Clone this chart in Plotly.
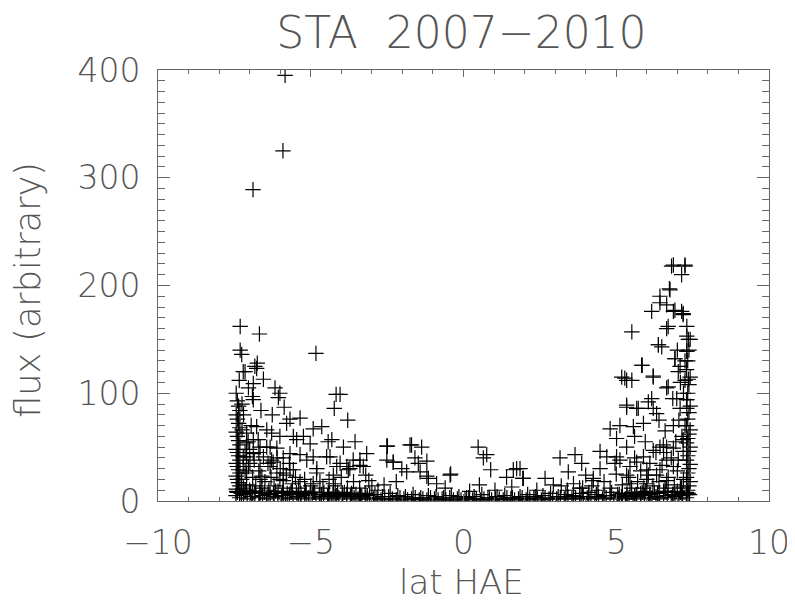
"""STA 2007-2010 flux vs heliographic latitude, IDL-style plus scatter."""

import plotly.graph_objects as go

# points sitting on the floor of the plot (low flux band)
lat_floor = [
    -7.45, -7.33, -7.2, -7.08, -6.95, -6.83, -6.7, -6.58, -6.45, -6.33, -6.2, -6.08,
    -5.95, -5.83, -5.7, -5.58, -5.45, -5.33, -5.2, -5.08, -4.95, -4.83, -4.7, -4.58,
    -4.45, -4.33, -4.2, -4.08, -3.95, -3.83, -3.7, -3.58, -3.45, -3.33, -3.2, -3.08,
    -2.95, -2.83, -2.7, -2.58, -2.45, -2.33, -2.2, -2.08, -1.95, -1.83, -1.7, -1.58,
    -1.45, -1.33, -1.2, -1.08, -0.95, -0.83, -0.7, -0.58, -0.45, -0.33, -0.2, -0.08,
    0.05, 0.17, 0.3, 0.42, 0.55, 0.67, 0.8, 0.92, 1.05, 1.17, 1.3, 1.42,
    1.55, 1.67, 1.8, 1.92, 2.05, 2.17, 2.3, 2.42, 2.55, 2.67, 2.8, 2.92,
    3.05, 3.17, 3.3, 3.42, 3.55, 3.67, 3.8, 3.92, 4.05, 4.17, 4.3, 4.42,
    4.55, 4.67, 4.8, 4.92, 5.05, 5.17, 5.3, 5.42, 5.55, 5.67, 5.8, 5.92,
    6.05, 6.17, 6.3, 6.42, 6.55, 6.67, 6.8, 6.92, 7.05, 7.17, 7.3, 7.4,
]
flux_floor = [
    5, 3, 6, 2, 4, 7, 3, 5, 2, 6, 4, 3, 5, 2, 6, 3, 4, 2, 5, 3, 6, 2, 4, 3,
    5, 2, 4, 3, 5, 2, 4, 3, 2, 4, 3, 2,
    2, 3, 1, 2, 4, 2, 1, 3, 2, 1, 2, 3, 1, 2, 1, 3, 2, 1, 2, 1, 3, 1, 2, 1,
    2, 3, 1, 2, 1, 2, 3, 1, 2, 2, 1, 3, 2, 1, 2, 3, 1, 2, 3, 2, 1, 3, 2, 2,
    2, 3, 2, 4, 2, 3, 2, 4, 3, 2, 3, 4, 2, 3, 5, 2, 3, 4, 2, 3, 2, 4, 3, 5,
    2, 3, 4, 2, 3, 5, 3, 4, 2, 5, 3, 6,
]
lat_floor2 = [
    -7.4, -7.15, -6.9, -6.65, -6.4, -6.15, -5.9, -5.65, -5.4, -5.15, -4.9, -4.65,
    -4.4, -4.15, -3.9, -3.65, -3.4, -3.15, -2.9, -2.65, -2.4, -2.15, -1.9, -1.65,
    -1.4, -1.15, -0.9, -0.65, -0.4, -0.15, 0.1, 0.35, 0.6, 0.85, 1.1, 1.35,
    1.6, 1.85, 2.1, 2.35, 2.6, 2.85, 3.1, 3.35, 3.6, 3.85, 4.1, 4.35,
    4.6, 4.85, 5.1, 5.35, 5.6, 5.85, 6.1, 6.35, 6.6, 6.85, 7.1, 7.35,
]
flux_floor2 = [
    8, 9, 7, 8, 6, 9, 7, 8, 6, 7, 8, 6, 7, 5, 8, 6, 7, 5, 6, 4, 7, 5, 4, 6,
    3, 5, 4, 3, 5, 4, 3, 4, 6, 3, 4, 5, 3, 4, 6, 4, 5, 7, 4, 6, 5, 7, 4, 6,
    5, 8, 6, 7, 5, 8, 6, 7, 9, 6, 8, 7,
]
lat_floor3 = [
    -7.42, -7.27, -7.12, -6.97, -6.82, -6.67, -6.52, -6.37, -6.22, -6.07, -5.92, -5.77,
    -5.62, -5.47, -5.32, -5.17, -5.02, -4.87, -4.72, -4.57, -4.42, -4.27, -4.12, -3.97,
    -3.82, -3.67, -3.52, -3.37, -3.22, -3.07,
    5.05, 5.2, 5.35, 5.5, 5.65, 5.8, 5.95, 6.1, 6.25, 6.4, 6.55, 6.7, 6.85, 7.0, 7.15, 7.3,
]
flux_floor3 = [
    9, 7, 10, 8, 9, 7, 8, 10, 7, 9, 8, 7, 9, 8, 7, 9, 7, 8, 6, 8, 7, 6, 8, 7,
    6, 7, 6, 5, 7, 6,
    6, 7, 5, 8, 6, 7, 9, 6, 8, 7, 9, 8, 6, 9, 7, 8,
]

# dense column at the southern latitude limit
lat_south_edge = [
    -7.44, -7.40, -7.36, -7.32, -7.44, -7.40, -7.36, -7.32, -7.44, -7.40, -7.36, -7.32, -7.44,
    -7.40, -7.36, -7.32, -7.44, -7.40, -7.36, -7.32, -7.44, -7.40, -7.36, -7.32, -7.44, -7.40,
]
flux_south_edge = [
    100, 93, 88, 84, 80, 76, 72, 68, 64, 60, 56, 52, 48,
    45, 42, 38, 35, 32, 29, 26, 23, 20, 17, 14, 11, 8,
]

# dense column at the northern latitude limit
lat_north_edge = [
    7.42, 7.38, 7.34, 7.30, 7.42, 7.38, 7.34, 7.30, 7.42, 7.38, 7.34, 7.30, 7.42, 7.38,
    7.34, 7.30, 7.42, 7.38, 7.34, 7.30, 7.42, 7.38, 7.34, 7.30, 7.42, 7.38, 7.34, 7.30,
]
flux_north_edge = [
    150, 140, 130, 122, 115, 108, 100, 94, 88, 82, 76, 70, 66, 62,
    58, 54, 50, 46, 42, 38, 34, 30, 26, 22, 18, 14, 10, 6,
]

# scattered southern points
lat_south = [
    -6.89, -5.91, -5.84, -7.31, -6.68, -4.83, -7.31, -7.26, -6.83, -6.77, -6.75, -7.15,
    -6.55, -6.88, -7.04, -6.17, -6.01, -6.06, -4.17, -4.04, -4.23, -3.79, -6.91, -6.88,
    -5.87, -6.63, -6.26, -5.68, -5.35, -5.79, -4.92, -4.64, -6.77, -6.44, -3.55, -2.51,
    -2.51, -2.30, -3.17, -4.43, -3.93, -5.24, -5.57, -5.02, -5.68, -5.35, -4.92, -4.48,
    -4.15, -3.77, -3.39, -5.68, -5.90, -4.81, -4.70, -4.26, -6.23, -6.33, -6.66, -6.88,
    -7.10, -7.10, -7.04, -6.60, -6.11, -5.35, -6.28, -6.01, -6.72, -6.44, -6.11, -6.88,
    -6.55, -6.28, -6.99, -6.66, -5.90, -5.46, -5.13, -4.31, -4.37, -4.04, -3.82, -6.66,
    -6.01, -4.92, -4.26, -7.10, -7.21, -7.21, -7.10, -7.26, -5.57, -5.90, -6.33, -3.61,
    -3.39, -3.72, -3.28, -7.34, -7.21,
    -7.2, -7.1, -7.0, -6.9, -6.8, -6.7, -6.6, -6.5, -6.4, -6.3, -6.2, -6.1,
    -6.0, -5.9, -5.8, -5.7, -5.6, -5.5, -5.4, -5.2, -5.0, -4.8, -4.6, -4.4,
    -4.2, -4.0, -3.8, -3.6, -3.4, -3.2, -3.0, -2.8, -7.15, -7.05, -6.95, -7.2,
    -7.25, -7.0, -6.85, -6.7, -7.15, -7.25,
]
flux_south = [
    289, 325, 395, 162, 155, 137, 140, 136, 125, 123, 128, 120,
    113, 109, 105, 105, 100, 96, 99, 99, 86, 75, 97, 94,
    87, 84, 80, 76, 77, 72, 67, 69, 69, 66, 55, 51,
    38, 36, 44, 55, 50, 60, 60, 53, 44, 43, 41, 41,
    32, 29, 33, 29, 19, 26, 18, 24, 36, 50, 50, 57,
    63, 41, 32, 23, 26, 18, 63, 60, 57, 50, 49, 44,
    41, 38, 35, 32, 40, 57, 38, 57, 41, 35, 32, 20,
    20, 16, 16, 54, 41, 32, 26, 20, 29, 26, 32, 38,
    38, 30, 32, 112, 120,
    12, 15, 10, 22, 14, 28, 12, 18, 35, 22, 14, 40,
    30, 12, 24, 35, 16, 22, 12, 20, 14, 30, 12, 20,
    14, 22, 12, 18, 12, 24, 14, 10, 45, 55, 70, 80,
    90, 48, 38, 45, 28, 66,
]

# scattered points near the equator
lat_mid = [
    -2.49, -2.30, -2.02, -1.86, -1.75, -1.37, -1.59, -1.20, -1.48, -1.42, -1.15, -0.88,
    -0.44, -0.42, -1.70, -1.20, -2.20, -2.60, -3.10, -0.60, 0.48, 0.65, 0.76, 0.89,
    0.52, 1.03, 1.41, 1.63, 1.85, 1.94, 1.58, 1.74, 1.96, 0.20, 2.40,
]
flux_mid = [
    51, 36, 30, 27, 52, 50, 40, 37, 35, 27, 21, 16,
    24, 25, 52, 23, 18, 15, 19, 12, 50, 40, 43, 29,
    15, 10, 22, 29, 30, 21, 13, 30, 21, 9, 10,
]

# scattered northern points
lat_north = [
    3.16, 3.65, 3.87, 3.43, 2.67, 2.94, 4.25, 4.47, 4.80, 5.12, 5.01, 4.69,
    4.96, 5.34, 5.56, 5.34, 5.72, 6.05, 6.16, 6.21, 6.32, 5.89, 5.18, 5.34,
    5.51, 6.21, 6.65, 6.98, 7.31, 7.31, 5.85, 5.51, 6.16, 6.43, 6.65, 6.87,
    7.14, 7.19, 6.70, 7.31, 7.36, 6.38, 6.49, 7.31, 6.92, 7.09, 7.03, 7.36,
    7.09, 6.87, 7.25, 6.54, 6.65, 6.87, 7.19, 6.05, 6.32, 6.43, 6.00, 5.34,
    5.45, 5.67, 5.89, 6.21, 6.43, 5.01, 5.12, 4.47, 4.25, 5.45, 6.00, 6.65,
    6.87, 6.65, 7.03, 7.19, 7.14, 6.81, 7.25, 7.14, 6.74, 6.43, 6.87, 7.25,
    6.76, 6.92, 7.19, 6.65, 7.31, 6.38, 7.31, 6.92, 5.83, 7.25, 6.21, 5.28,
    6.70, 5.34, 5.67, 3.90, 4.10, 5.60, 5.95, 6.55,
    7.2, 7.1, 7.0, 6.9, 6.8, 6.7, 6.6, 6.5, 6.4, 6.3, 6.2, 6.1,
    6.0, 5.9, 5.8, 5.7, 5.6, 5.5, 5.4, 5.2, 5.0, 4.8, 4.6, 4.4,
    4.2, 4.0, 3.8, 3.6, 3.4, 3.2, 7.15, 7.05, 6.95, 7.2, 7.1, 6.85,
    7.25, 7.0, 6.6, 6.4,
]
flux_north = [
    40, 43, 35, 27, 21, 15, 21, 46, 67, 70, 58, 41,
    35, 50, 69, 87, 86, 92, 95, 86, 81, 72, 115, 112,
    112, 115, 105, 95, 94, 86, 126, 157, 176, 184, 182, 176,
    176, 173, 162, 162, 150, 145, 143, 139, 132, 125, 120, 113,
    86, 70, 70, 52, 50, 49, 57, 24, 24, 29, 29, 24,
    32, 36, 41, 47, 50, 41, 38, 30, 19, 16, 16, 19,
    32, 38, 38, 46, 13, 218, 218, 210, 197, 190, 219, 219,
    196, 177, 174, 160, 153, 145, 139, 132, 126, 112, 116, 114,
    106, 89, 86, 12, 8, 60, 55, 45,
    20, 12, 28, 15, 40, 22, 12, 33, 18, 45, 14, 35,
    20, 12, 28, 18, 40, 12, 22, 15, 25, 12, 18, 10,
    14, 24, 12, 16, 10, 14, 60, 75, 55, 100, 110, 95,
    130, 140, 65, 75,
]

groups = [
    (lat_floor, flux_floor),
    (lat_floor2, flux_floor2),
    (lat_floor3, flux_floor3),
    (lat_south_edge, flux_south_edge),
    (lat_north_edge, flux_north_edge),
    (lat_south, flux_south),
    (lat_mid, flux_mid),
    (lat_north, flux_north),
]

TEXT = "#555555"
FONT = "DejaVu Sans"

fig = go.Figure()
for lat, flux in groups:
    fig.add_trace(
        go.Scatter(
            x=lat,
            y=flux,
            mode="markers",
            marker=dict(symbol="cross-thin", size=11, line=dict(width=1.2, color="black")),
            showlegend=False,
        )
    )

axis_common = dict(
    automargin=False,
    showline=True,
    linecolor="#666666",
    linewidth=1,
    mirror="allticks",
    ticks="inside",
    tickcolor="#666666",
    showgrid=False,
    zeroline=False,
    tickfont=dict(family=FONT, size=33, color=TEXT, weight=200),
)

fig.update_xaxes(
    range=[-10, 10],
    dtick=5,
    ticklen=7,
    ticklabelstandoff=12,
    minor=dict(dtick=1, ticks="inside", ticklen=4, tickcolor="#666666"),
    **axis_common,
)
fig.update_yaxes(
    range=[0, 400],
    dtick=100,
    ticklen=12,
    ticklabelstandoff=10,
    minor=dict(dtick=10, ticks="inside", ticklen=7, tickcolor="#666666"),
    **axis_common,
)

# the page body adds an 8px offset, so margins are shifted to keep the
# plot box at the same place in the window
fig.update_layout(
    template="none",
    width=795,
    height=606,
    margin=dict(l=150, r=34, t=62, b=113),
    plot_bgcolor="white",
    paper_bgcolor="white",
    title=dict(
        text="STA  2007\u22122010",
        x=0.4967,
        xref="paper",
        xanchor="center",
        y=1 - 24.5 / 606,
        yanchor="middle",
        yref="container",
        font=dict(family=FONT, size=44, color=TEXT, weight=200),
    ),
    annotations=[
        dict(
            text="lat HAE",
            x=0.4967,
            xref="paper",
            y=-81 / 431,
            yref="paper",
            yanchor="middle",
            showarrow=False,
            font=dict(family=FONT, size=34, color=TEXT, weight=200),
        ),
        dict(
            text="flux (arbitrary)",
            x=-130 / 611,
            xref="paper",
            xanchor="center",
            y=0.49,
            yref="paper",
            textangle=-90,
            showarrow=False,
            font=dict(family=FONT, size=35, color=TEXT, weight=200),
        ),
    ],
)

fig.write_html("out.html")
